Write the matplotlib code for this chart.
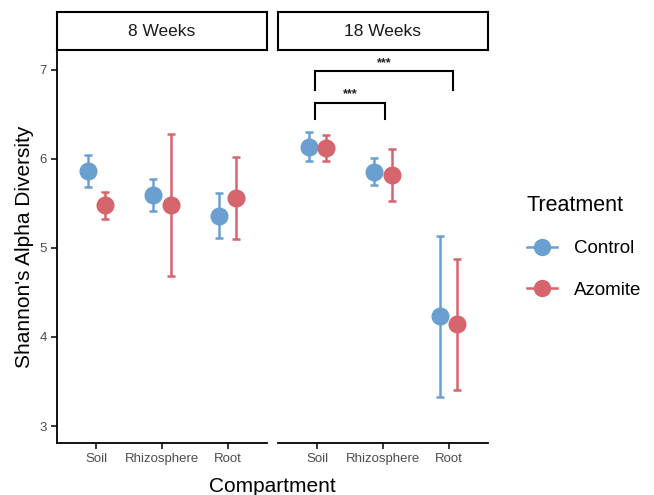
import matplotlib
matplotlib.use("Agg")
import matplotlib.pyplot as plt
import numpy as np
from matplotlib.lines import Line2D

plt.rcParams['font.family'] = ['Liberation Sans', 'DejaVu Sans']

compartments = ["Soil", "Rhizosphere", "Root"]
panels = ["8 Weeks", "18 Weeks"]
treatments = ["Control", "Azomite"]
colors = {"Control": "#6A9FD0", "Azomite": "#D6646D"}

# mean, lower, upper per panel / treatment
mean = {
    ("8 Weeks", "Control"): [5.86, 5.59, 5.36],
    ("8 Weeks", "Azomite"): [5.48, 5.48, 5.56],
    ("18 Weeks", "Control"): [6.13, 5.85, 4.24],
    ("18 Weeks", "Azomite"): [6.12, 5.82, 4.14],
}
lower = {
    ("8 Weeks", "Control"): [5.68, 5.41, 5.11],
    ("8 Weeks", "Azomite"): [5.32, 4.68, 5.10],
    ("18 Weeks", "Control"): [5.97, 5.70, 3.33],
    ("18 Weeks", "Azomite"): [5.98, 5.52, 3.40],
}
upper = {
    ("8 Weeks", "Control"): [6.04, 5.77, 5.62],
    ("8 Weeks", "Azomite"): [5.63, 6.28, 6.02],
    ("18 Weeks", "Control"): [6.30, 6.01, 5.13],
    ("18 Weeks", "Azomite"): [6.27, 6.11, 4.87],
}

# significance brackets in 18 Weeks panel: (x_start, x_end, y_top, y_end, label)
brackets = [
    (0.97, 2.03, 6.63, 6.45, "***"),
    (0.97, 3.07, 6.98, 6.77, "***"),
]

W, H = 654, 495
fig = plt.figure(figsize=(W / 100, H / 100), dpi=100)

def fx(px):
    return px / W

def fy(py):
    return 1 - py / H

panel_x = [57, 278]
panel_w = 210
top, bottom = 50, 443
strip_top = 12

dodge = 0.13
x = np.arange(1, 4)

axes = []
for i, p in enumerate(panels):
    ax = fig.add_axes([fx(panel_x[i]), fy(bottom), fx(panel_w), (bottom - top) / H])
    axes.append(ax)
    for j, t in enumerate(treatments):
        xs = x + (-dodge if j == 0 else dodge)
        m = np.array(mean[(p, t)])
        lo = np.array(lower[(p, t)])
        hi = np.array(upper[(p, t)])
        ax.errorbar(xs, m, yerr=[m - lo, hi - m], fmt='none', ecolor=colors[t],
                    elinewidth=1.8, capsize=3, capthick=1.8, zorder=2)
        ax.plot(xs, m, 'o', color=colors[t], markersize=13, markeredgewidth=0,
                zorder=3, label=t)
    ax.set_xlim(0.4, 3.6)
    ax.set_ylim(2.81, 7.22)
    ax.set_xticks(x)
    ax.set_xticklabels(compartments)
    ax.set_yticks([3, 4, 5, 6, 7])
    for s in ["top", "right"]:
        ax.spines[s].set_visible(False)
    ax.spines["bottom"].set_linewidth(1.3)
    ax.spines["left"].set_linewidth(1.3)
    ax.tick_params(axis='both', length=4, width=1.1, colors="black",
                   labelcolor="#4D4D4D", labelsize=9.5)
    if i == 1:
        ax.spines["left"].set_visible(False)
        ax.tick_params(axis='y', left=False, labelleft=False)

    # strip
    sax = fig.add_axes([fx(panel_x[i]), fy(top), fx(panel_w), (top - strip_top) / H])
    sax.set_xticks([])
    sax.set_yticks([])
    for s in sax.spines.values():
        s.set_linewidth(1.5)
    sax.text(0.5, 0.5, p, ha='center', va='center', fontsize=12.5, color="#1A1A1A",
             transform=sax.transAxes)

ax2 = axes[1]
for xs0, xs1, yt, ye, lab in brackets:
    ax2.plot([xs0, xs0, xs1, xs1], [ye, yt, yt, ye], color="black", lw=1.5,
             solid_joinstyle='miter', clip_on=False)
    ax2.text((xs0 + xs1) / 2, yt + 0.03, lab, ha='center', va='bottom',
             fontsize=9, fontweight='bold', color="#222222")

axes[0].set_ylabel("Shannon's Alpha Diversity", fontsize=15, labelpad=4)
fig.text(fx(272), fy(486), "Compartment", ha='center', va='center', fontsize=15)

leg_handles = [Line2D([0], [0], color=colors[t], marker='o', markersize=12.5,
                      lw=1.8, markeredgewidth=0) for t in treatments]
leg = fig.legend(leg_handles, treatments, loc='upper left',
                 bbox_to_anchor=(fx(510), fy(178)), frameon=False,
                 title="Treatment", fontsize=13.5, title_fontsize=15.5,
                 handlelength=1.6, handletextpad=0.9, labelspacing=1.3,
                 alignment='left')

fig.savefig("out.png", dpi=100)
